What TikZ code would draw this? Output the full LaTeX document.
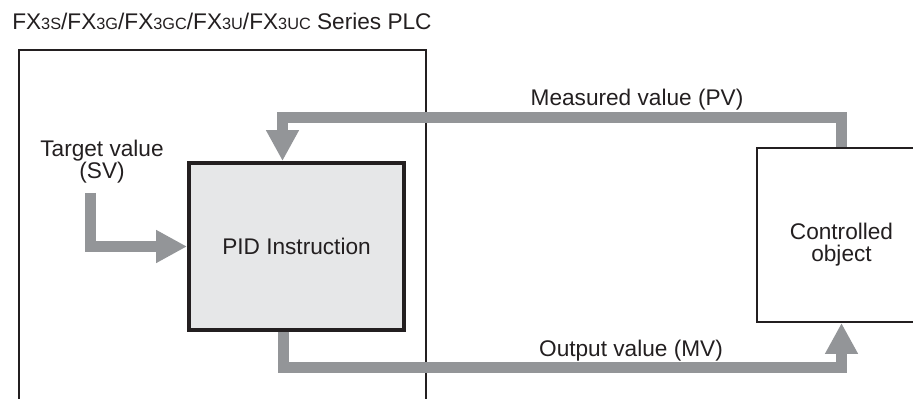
\documentclass[tikz,border=0pt]{standalone}
\usepackage{fontspec}
\setmainfont{Liberation Sans}
\usetikzlibrary{arrows.meta,positioning}
\definecolor{flowgray}{RGB}{147,149,152}
\definecolor{boxfill}{RGB}{230,231,232}
\definecolor{inkblack}{RGB}{35,31,32}
\newcommand{\smallpart}[1]{{\fontsize{11.6pt}{13pt}\selectfont #1}}

\begin{document}
\begin{tikzpicture}[x=0.025cm, y=-0.025cm,
  every node/.style={font=\fontsize{16.1pt}{15.6pt}\selectfont, text=inkblack},
  flow/.style={draw=flowgray, line width=7.8pt, -{Triangle[width=22pt,length=22pt]}}]
  \useasboundingbox (0,0) rectangle (913,399);

  \node[anchor=base west, inner sep=0] (title) at (12,30)
    {FX\smallpart{3S}/FX\smallpart{3G}/FX\smallpart{3GC}/FX\smallpart{3U}/FX\smallpart{3UC} Series PLC};
  \draw[inkblack, line width=1.4pt] (19,399) |- (426,50) -- (426,399);

  \node[draw=inkblack, line width=2.8pt, fill=boxfill, minimum width=5.375cm, minimum height=4.175cm, inner sep=0] (PID) at (296.5,246.5) {PID Instruction};
  \node[draw=inkblack, line width=1.4pt, minimum width=4.225cm, minimum height=4.35cm,
    label={[align=center, yshift=-7pt]center:Controlled\\object}] (OBJ) at (841.5,235) {};

  \node[align=center, inner sep=0] (SV) at (102,162) {Target value\\(SV)};
  \node[anchor=base] (PV) at (637,106) {Measured value (PV)};
  \node[anchor=base] (MV) at (631,356) {Output value (MV)};

  \coordinate (svstart) at (90.5,193);
  \coordinate (pvturn) at (282.5,117.5);
  \coordinate (mvturn) at (283.5,367.5);

  \draw[flow] (svstart) |- (PID.west);
  \draw[flow] (OBJ.north) |- (pvturn) -- (pvturn |- PID.north);
  \draw[flow] (mvturn |- PID.south) -- (mvturn) -| (OBJ.south);
\end{tikzpicture}
\end{document}
